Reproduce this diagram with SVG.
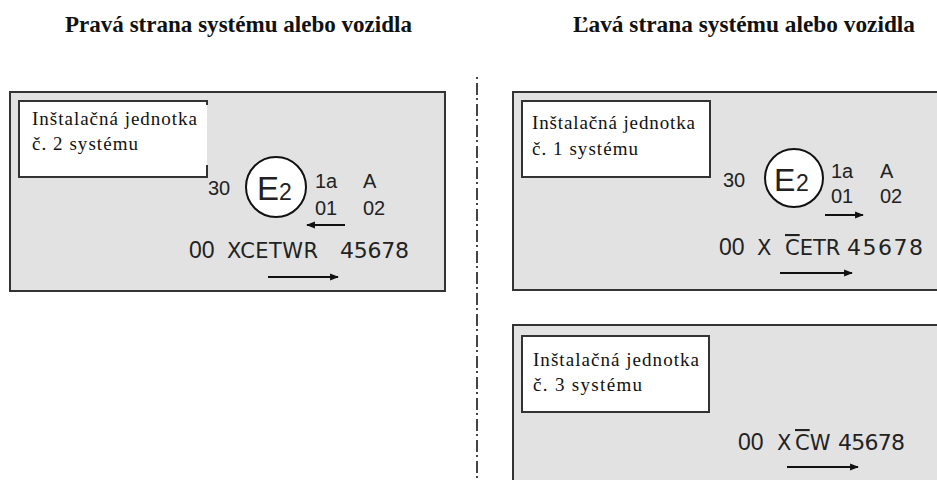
<svg xmlns="http://www.w3.org/2000/svg" width="937" height="480" viewBox="0 0 937 480">
<style>
.title{font-family:"Liberation Serif","Times New Roman",serif;font-weight:bold;font-size:23px;fill:#111}
.panel{fill:#e2e2e2;stroke:#333;stroke-width:2}
.label{fill:#fff;stroke:#333;stroke-width:2}
.ser{font-family:"Liberation Serif","Times New Roman",serif;font-size:19px;fill:#111}
.ar{font-family:"Liberation Sans",Arial,sans-serif;fill:#222}
.dv{font-family:"DejaVu Sans",Verdana,sans-serif;fill:#222}
.circ{fill:#fff;stroke:#111;stroke-width:2}
.arrow{stroke:#111;stroke-width:2.2;fill:none}
.ov{text-decoration:overline}
</style>
<defs>
<marker id="ah" viewBox="0 0 10 10" refX="9" refY="5" markerWidth="4" markerHeight="4" orient="auto" markerUnits="strokeWidth">
<path d="M0,1 L10,5 L0,9 Z" fill="#111"/>
</marker>
</defs>
<rect width="937" height="480" fill="#fff"/>

<text class="title" x="65" y="32" textLength="347" lengthAdjust="spacingAndGlyphs">Pravá strana systému alebo vozidla</text>
<text class="title" x="573" y="32" textLength="342" lengthAdjust="spacingAndGlyphs">Ľavá strana systému alebo vozidla</text>

<g id="divider">
<line x1="477" y1="77" x2="477" y2="480" stroke="#444" stroke-width="2" stroke-dasharray="2 4 12 3"/>
</g>

<g id="unit2">
<rect class="panel" x="10" y="92" width="435" height="199"/>
<rect x="19" y="101" width="188" height="76" fill="#fff"/>
<path d="M207,105 V101 H19 V177 H207 V165" fill="none" stroke="#333" stroke-width="2"/>
<text class="ser" x="32" y="125" textLength="165" lengthAdjust="spacing">Inštalačná jednotka</text>
<text class="ser" x="32" y="150" textLength="106" lengthAdjust="spacing">č. 2 systému</text>
<text class="ar" x="208" y="195" font-size="20">30</text>
<circle class="circ" cx="276" cy="187" r="30"/>
<text class="ar" x="257" y="200" font-size="33">E</text>
<text class="ar" x="279" y="200" font-size="23">2</text>
<text class="ar" x="315" y="188" font-size="20">1a</text>
<text class="ar" x="363" y="188" font-size="20">A</text>
<text class="ar" x="315" y="215" font-size="20">01</text>
<text class="ar" x="363" y="215" font-size="20">02</text>
<text class="ar" x="189" y="258" font-size="23">00</text>
<text class="dv" x="227" y="258" font-size="21" textLength="91" lengthAdjust="spacing">XCETWR</text>
<text class="dv" x="340" y="258" font-size="22" textLength="69" lengthAdjust="spacing">45678</text>
</g>

<g id="unit1">
<rect class="panel" x="513" y="92" width="430" height="198"/>
<rect class="label" x="522" y="101" width="188" height="76"/>
<text class="ser" x="532" y="129" textLength="163" lengthAdjust="spacing">Inštalačná jednotka</text>
<text class="ser" x="532" y="155" textLength="106" lengthAdjust="spacing">č. 1 systému</text>
<text class="ar" x="723" y="187" font-size="20">30</text>
<circle class="circ" cx="794" cy="178" r="29"/>
<text class="ar" x="774" y="191" font-size="32">E</text>
<text class="ar" x="796" y="191" font-size="23">2</text>
<text class="ar" x="831" y="178" font-size="20">1a</text>
<text class="ar" x="880" y="178" font-size="20">A</text>
<text class="ar" x="831" y="203" font-size="20">01</text>
<text class="ar" x="880" y="203" font-size="20">02</text>
<text class="ar" x="719" y="255" font-size="23">00</text>
<text class="dv" x="757" y="255" font-size="21">X</text>
<text class="dv" x="785" y="255" font-size="21"><tspan class="ov">C</tspan>ETR</text>
<text class="dv" x="847" y="255" font-size="22" textLength="76" lengthAdjust="spacing">45678</text>
</g>

<g id="unit3">
<rect class="panel" x="513" y="325" width="430" height="170"/>
<rect class="label" x="522" y="336" width="187" height="76"/>
<text class="ser" x="533" y="366" textLength="166" lengthAdjust="spacing">Inštalačná jednotka</text>
<text class="ser" x="533" y="391" textLength="109" lengthAdjust="spacing">č. 3 systému</text>
<text class="ar" x="738" y="450" font-size="23">00</text>
<text class="dv" x="777" y="450" font-size="21">X</text>
<text class="dv" x="795" y="450" font-size="21"><tspan class="ov">C</tspan>W</text>
<text class="dv" x="838" y="450" font-size="22" textLength="67" lengthAdjust="spacing">45678</text>
</g>

<g id="connectors">
<line class="arrow" x1="345" y1="225" x2="307" y2="225" marker-end="url(#ah)"/>
<line class="arrow" x1="268" y1="277" x2="338" y2="277" marker-end="url(#ah)"/>
<line class="arrow" x1="825" y1="215" x2="863" y2="215" marker-end="url(#ah)"/>
<line class="arrow" x1="780" y1="273" x2="852" y2="273" marker-end="url(#ah)"/>
<line class="arrow" x1="787" y1="467" x2="858" y2="467" marker-end="url(#ah)"/>
</g>
</svg>
